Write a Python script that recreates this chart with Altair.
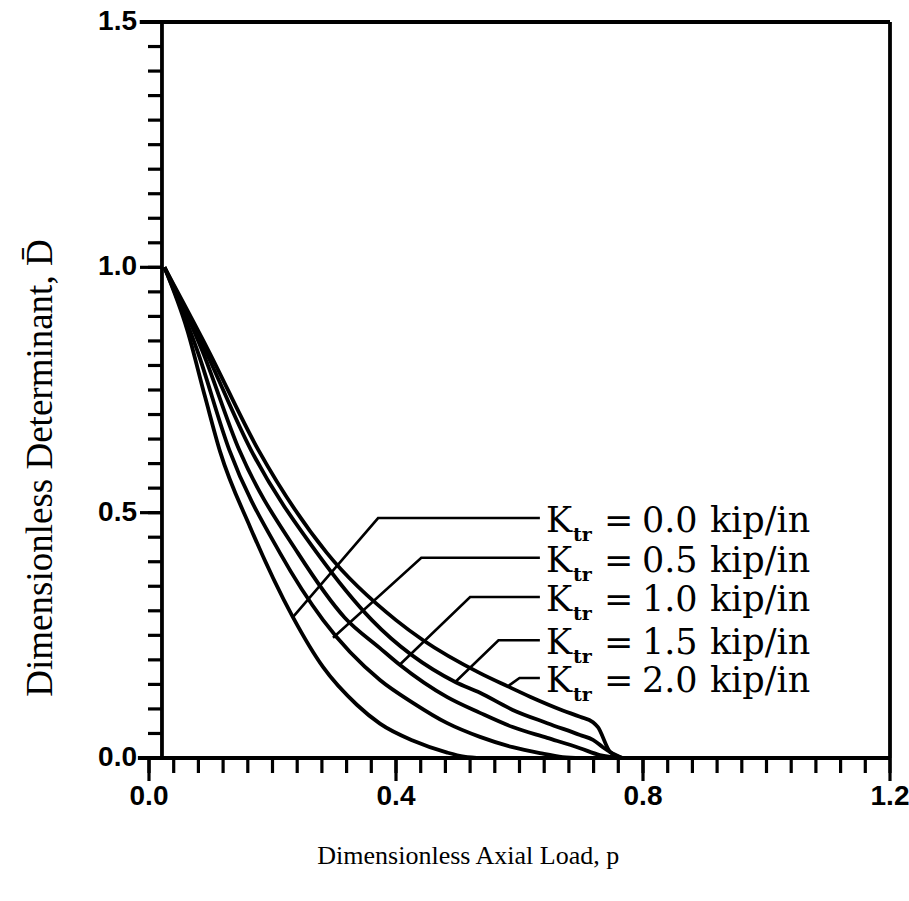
import altair as alt
import pandas as pd

# ---- data ----
series = ["0.0", "0.5", "1.0", "1.5", "2.0"]

p_k00 = [0.025, 0.062, 0.091, 0.115, 0.164, 0.233, 0.282, 0.337, 0.374, 0.428, 0.483, 0.510, 0.540]
d_k00 = [1.000, 0.872, 0.735, 0.625, 0.470, 0.287, 0.185, 0.108, 0.070, 0.035, 0.011, 0.003, 0.000]

p_k05 = [0.025, 0.078, 0.130, 0.212, 0.282, 0.374, 0.428, 0.483, 0.536, 0.589, 0.633, 0.670, 0.700]
d_k05 = [1.000, 0.831, 0.628, 0.418, 0.281, 0.159, 0.112, 0.071, 0.043, 0.022, 0.010, 0.002, 0.000]

p_k10 = [0.025, 0.086, 0.146, 0.241, 0.317, 0.374, 0.406, 0.483, 0.536, 0.589, 0.645, 0.698, 0.730, 0.765]
d_k10 = [1.000, 0.831, 0.628, 0.418, 0.286, 0.224, 0.190, 0.124, 0.092, 0.063, 0.041, 0.020, 0.006, 0.000]

p_k15 = [0.025, 0.091, 0.165, 0.272, 0.361, 0.496, 0.536, 0.589, 0.645, 0.698, 0.719, 0.735, 0.747, 0.766]
d_k15 = [1.000, 0.831, 0.628, 0.418, 0.281, 0.155, 0.133, 0.098, 0.071, 0.047, 0.037, 0.022, 0.012, 0.000]

p_k20 = [0.025, 0.096, 0.177, 0.288, 0.400, 0.444, 0.536, 0.581, 0.617, 0.670, 0.698, 0.719, 0.727, 0.747, 0.768]
d_k20 = [1.000, 0.831, 0.628, 0.418, 0.281, 0.240, 0.173, 0.146, 0.125, 0.097, 0.084, 0.073, 0.063, 0.012, 0.000]

# leader lines: curve point -> elbow -> label start
lead_p_end = [0.233, 0.298, 0.406, 0.496, 0.581]
lead_d_end = [0.287, 0.245, 0.190, 0.155, 0.146]
lead_p_elbow = [0.371, 0.441, 0.520, 0.566, 0.600]
label_d = [0.489, 0.408, 0.328, 0.240, 0.163]
label_p = 0.633

x_major = [0.0, 0.4, 0.8, 1.2]
x_major_text = ["0.0", "0.4", "0.8", "1.2"]
y_major = [0.0, 0.5, 1.0, 1.5]
y_major_text = ["0.0", "0.5", "1.0", "1.5"]
x_minor = [round(i * 0.04, 2) for i in range(31)]
y_minor = [round(i * 0.05, 2) for i in range(31)]

W, H = 741, 736
X = alt.Scale(domain=[0, 1.2], nice=False, zero=False)
Y = alt.Scale(domain=[0, 1.5], nice=False, zero=False)

rows = []
for k, ps, ds in zip(series, [p_k00, p_k05, p_k10, p_k15, p_k20], [d_k00, d_k05, d_k10, d_k15, d_k20]):
    for i, (p, d) in enumerate(zip(ps, ds)):
        rows.append({"k": k, "i": i, "p": p, "D": d})
curves_df = pd.DataFrame(rows)

lead_rows = []
for j, k in enumerate(series):
    lead_rows += [
        {"k": k, "i": 0, "p": lead_p_end[j], "D": lead_d_end[j]},
        {"k": k, "i": 1, "p": lead_p_elbow[j], "D": label_d[j]},
        {"k": k, "i": 2, "p": label_p, "D": label_d[j]},
    ]
lead_df = pd.DataFrame(lead_rows)

lab_df = pd.DataFrame({"k": series, "D": label_d, "p": [label_p] * 5,
                       "K": ["K"] * 5, "tr": ["tr"] * 5, "eq": ["="] * 5,
                       "val": series, "unit": ["kip/in"] * 5})


def xq(f):
    return alt.X(f, scale=X, axis=None)


def yq(f):
    return alt.Y(f, scale=Y, axis=None)


curves = alt.Chart(curves_df).mark_line(color="black", strokeWidth=3.8, interpolate="monotone").encode(
    x=xq("p:Q"), y=yq("D:Q"), detail="k:N", order="i:Q")

leaders = alt.Chart(lead_df).mark_line(color="black", strokeWidth=2.6).encode(
    x=xq("p:Q"), y=yq("D:Q"), detail="k:N", order="i:Q")

# frame
frame_df = pd.DataFrame({
    "x1": [0.021, -0.018, -0.015, 1.2],
    "x2": [0.021, 1.2, 1.2, 1.2],
    "y1": [0.0, 0.0, 1.5, 0.0],
    "y2": [1.5, 0.0, 1.5, 1.5],
})
frame = alt.Chart(frame_df).mark_rule(color="black", strokeWidth=3.8).encode(
    x=xq("x1:Q"), x2="x2:Q", y=yq("y1:Q"), y2="y2:Q")

xmin = alt.Chart(pd.DataFrame({"p": x_minor})).mark_rule(color="black", strokeWidth=3.2).encode(
    x=xq("p:Q"), y=alt.value(H), y2=alt.value(H + 15))
xmaj = alt.Chart(pd.DataFrame({"p": x_major})).mark_rule(color="black", strokeWidth=3.2).encode(
    x=xq("p:Q"), y=alt.value(H), y2=alt.value(H + 23))
ymin = alt.Chart(pd.DataFrame({"D": y_minor})).mark_rule(color="black", strokeWidth=3.2).encode(
    y=yq("D:Q"), x=alt.value(13), x2=alt.value(-1))
ymaj = alt.Chart(pd.DataFrame({"D": y_major})).mark_rule(color="black", strokeWidth=3.2).encode(
    y=yq("D:Q"), x=alt.value(13), x2=alt.value(-9))

xlab = alt.Chart(pd.DataFrame({"p": x_major, "t": x_major_text})).mark_text(
    font="Liberation Sans", fontWeight="bold", fontSize=28, baseline="middle", align="center").encode(
    x=xq("p:Q"), y=alt.value(H + 39), text="t:N")
ylab = alt.Chart(pd.DataFrame({"D": y_major, "t": y_major_text})).mark_text(
    font="Liberation Sans", fontWeight="bold", fontSize=28, baseline="middle", align="right").encode(
    y=yq("D:Q"), x=alt.value(-12), text="t:N")

lab_font = "DejaVu Serif"
k_txt = alt.Chart(lab_df).mark_text(font=lab_font, fontSize=35, align="left", baseline="middle", dx=6, dy=3).encode(
    x=xq("p:Q"), y=yq("D:Q"), text="K:N")
tr_txt = alt.Chart(lab_df).mark_text(font=lab_font, fontSize=19, fontWeight="bold", align="left",
                                     baseline="middle", dx=33, dy=17).encode(
    x=xq("p:Q"), y=yq("D:Q"), text="tr:N")
eq_txt = alt.Chart(lab_df).mark_text(font=lab_font, fontSize=35, align="left", baseline="middle", dx=64, dy=3).encode(
    x=xq("p:Q"), y=yq("D:Q"), text="eq:N")
val_txt = alt.Chart(lab_df).mark_text(font=lab_font, fontSize=35, align="left", baseline="middle", dx=102, dy=3).encode(
    x=xq("p:Q"), y=yq("D:Q"), text="val:N")
unit_txt = alt.Chart(lab_df).mark_text(font=lab_font, fontSize=35, align="left", baseline="middle", dx=170, dy=3).encode(
    x=xq("p:Q"), y=yq("D:Q"), text="unit:N")

# axis titles (placed in data units just outside the plot)
serif = "Liberation Serif"
title_df = pd.DataFrame({"t": ["Dimensionless Axial Load, p"], "px": [0.517], "py": [-0.216]})
ytitle_df = pd.DataFrame({"t": ["Dimensionless Determinant, D\u0304"], "px": [-0.157], "py": [0.591]})
xtitle = alt.Chart(title_df).mark_text(
    font=serif, fontSize=26, align="center", baseline="alphabetic").encode(
    x=xq("px:Q"), y=yq("py:Q"), text="t:N")
ytitle = alt.Chart(ytitle_df).mark_text(
    font=serif, fontSize=37, align="center", baseline="alphabetic", angle=270).encode(
    x=xq("px:Q"), y=yq("py:Q"), text="t:N")

chart = alt.layer(frame, xmin, xmaj, ymin, ymaj, curves, leaders, xlab, ylab,
                  k_txt, tr_txt, eq_txt, val_txt, unit_txt, xtitle, ytitle).properties(
    width=W, height=H,
    autosize=alt.AutoSizeParams(type="none"),
    padding={"left": 149, "top": 22, "right": 19, "bottom": 143},
    background="white",
).configure_view(strokeWidth=0)

chart.save("out.html", embed_options={"renderer": "svg", "actions": False})
